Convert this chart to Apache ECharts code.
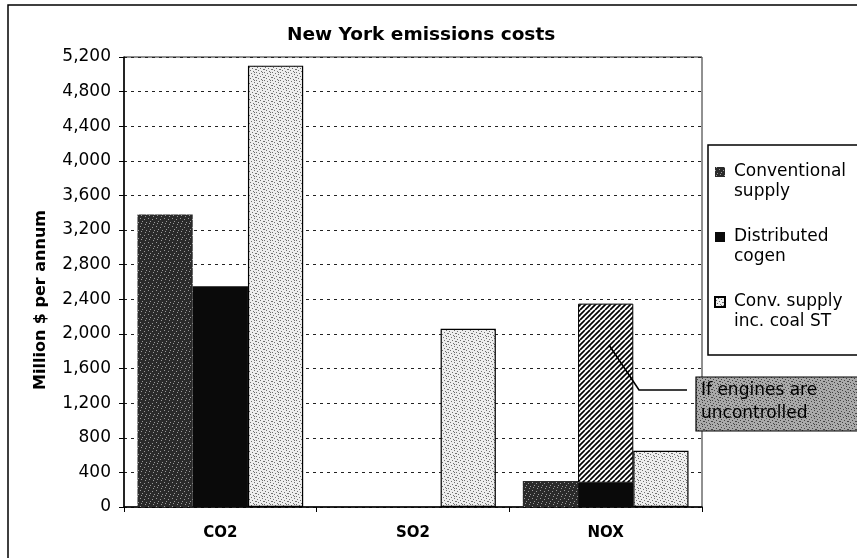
<!DOCTYPE html>
<html>
<head>
<meta charset="utf-8">
<script src="https://cdn.jsdelivr.net/npm/echarts@6/dist/echarts.min.js"></script>
<style>
html, body { margin: 0; padding: 0; background: #fff; }
#main { width: 857px; height: 558px; }
</style>
</head>
<body>
<div id="main"></div>
<script>
// values (million $ per annum)
const categories = ['CO2', 'SO2', 'NOX']
const conventional = [3380, 0, 300]
const distributed = [2550, 0, 280]
// extra NOX cost of distributed cogen if engines are uncontrolled (hatched, stacked on top)
const uncontrolledExtra = ['-', '-', 2070]
const convCoal = [5100, 2060, 650]

const seriesNames = ['Conventional\nsupply', 'Distributed\ncogen', 'Conv. supply\ninc. coal ST']
const annotationText = 'If engines are\nuncontrolled'

const FONT = 'DejaVu Sans'

// small fill textures, like the scanned stipple / hatching
function stipple(bg, fg, dots, size) {
    const c = document.createElement('canvas')
    c.width = c.height = size
    const ctx = c.getContext('2d')
    ctx.fillStyle = bg
    ctx.fillRect(0, 0, size, size)
    ctx.fillStyle = fg
    dots.forEach(function (d) { ctx.fillRect(d[0], d[1], 1, 1) })
    return { image: c, repeat: 'repeat' }
}

function hatch() {
    const s = 10
    const c = document.createElement('canvas')
    c.width = c.height = s
    const ctx = c.getContext('2d')
    ctx.fillStyle = '#fff'
    ctx.fillRect(0, 0, s, s)
    ctx.strokeStyle = '#000'
    ctx.lineWidth = 1.7
    for (let k = -s; k <= s; k += 5) {
        ctx.beginPath()
        ctx.moveTo(k, s)
        ctx.lineTo(k + s, 0)
        ctx.stroke()
    }
    return { image: c, repeat: 'repeat' }
}

const darkDots = [[1, 0], [4, 2], [6, 5], [2, 6], [0, 3], [5, 7]]
const lightDots = [[0, 0], [3, 1], [6, 2], [1, 3], [4, 4], [7, 5], [2, 6], [5, 7], [6, 0], [0, 5]]
const convFill = stipple('#2a2a2a', '#9a9a9a', darkDots, 8)
const coalFill = stipple('#eeeeee', '#707070', lightDots, 8)
const noteFill = stipple('#aaaaaa', '#444444', lightDots, 8)

const chart = echarts.init(document.getElementById('main'))

chart.setOption({
    animation: false,
    backgroundColor: '#fff',
    textStyle: { fontFamily: FONT, color: '#000' },
    title: {
        text: 'New York emissions costs',
        left: 282,
        top: 21,
        textStyle: { fontFamily: FONT, fontSize: 18.5, fontWeight: 'bold', color: '#000' }
    },
    legend: {
        data: seriesNames,
        orient: 'vertical',
        left: 714,
        top: 142,
        padding: 0,
        itemGap: 5,
        itemWidth: 10,
        itemHeight: 10,
        icon: 'rect',
        selectedMode: false,
        // blank first line so the marker sits next to the first line of text
        formatter: function (name) { return ' \n' + name },
        textStyle: { fontFamily: FONT, fontSize: 17, lineHeight: 20, color: '#000', padding: [0, 0, 0, 4] }
    },
    grid: {
        left: 124, right: 155, top: 57, bottom: 51,
        show: true, borderColor: '#222', borderWidth: 1
    },
    xAxis: {
        type: 'category',
        data: categories,
        axisLine: { lineStyle: { color: '#000', width: 1.5 } },
        axisTick: { show: true, length: 5, lineStyle: { color: '#000' } },
        axisLabel: { fontFamily: FONT, fontSize: 15, fontWeight: 'bold', color: '#000', margin: 19 }
    },
    yAxis: {
        type: 'value',
        min: 0, max: 5200, interval: 400,
        axisLine: { show: true, lineStyle: { color: '#000', width: 1.5 } },
        axisTick: { show: true, length: 5, lineStyle: { color: '#000' } },
        axisLabel: {
            fontFamily: FONT, fontSize: 17, color: '#000', margin: 13,
            formatter: function (v) { return v.toLocaleString('en-US') }
        },
        splitLine: { lineStyle: { color: '#222', type: [3, 4], width: 1 } }
    },
    series: [
        {
            name: seriesNames[0], type: 'bar', data: conventional,
            barCategoryGap: '14%', barGap: '0%',
            itemStyle: { color: convFill }
        },
        {
            name: seriesNames[1], type: 'bar', stack: 'dc', data: distributed,
            itemStyle: { color: '#0a0a0a' }
        },
        {
            name: 'uncontrolled', type: 'bar', stack: 'dc', data: uncontrolledExtra,
            itemStyle: { color: hatch(), borderColor: '#000', borderWidth: 1 }
        },
        {
            name: seriesNames[2], type: 'bar', data: convCoal,
            itemStyle: { color: coalFill, borderColor: '#000', borderWidth: 1.2 }
        }
    ],
    graphic: [
        // outer chart frame (cut off on the right and bottom in the scan)
        { type: 'rect', shape: { x: 8, y: 5, width: 900, height: 600 }, style: { fill: 'none', stroke: '#000', lineWidth: 1.5 }, z: 0 },
        // legend frame
        { type: 'rect', shape: { x: 708, y: 145, width: 200, height: 210 }, style: { fill: '#fff', stroke: '#000', lineWidth: 1.5 }, z: 1 },
        // y axis title
        {
            type: 'text', x: 41, y: 300, rotation: Math.PI / 2, z: 5,
            style: { text: 'Million $ per annum', font: 'bold 16px "DejaVu Sans"', fill: '#000', align: 'center', verticalAlign: 'middle' }
        },
        // annotation for the hatched bar
        { type: 'polyline', shape: { points: [[609, 345], [639, 390], [687, 390]] }, style: { stroke: '#000', lineWidth: 1.6, fill: null }, z: 100 },
        { type: 'rect', shape: { x: 696, y: 377, width: 200, height: 54 }, style: { fill: noteFill, stroke: '#000', lineWidth: 1.2 }, z: 100 },
        {
            type: 'text', x: 701, y: 402, z: 101,
            style: { text: annotationText, font: '17px "DejaVu Sans"', lineHeight: 23, fill: '#000', align: 'left', verticalAlign: 'middle' }
        }
    ]
})
</script>
</body>
</html>
